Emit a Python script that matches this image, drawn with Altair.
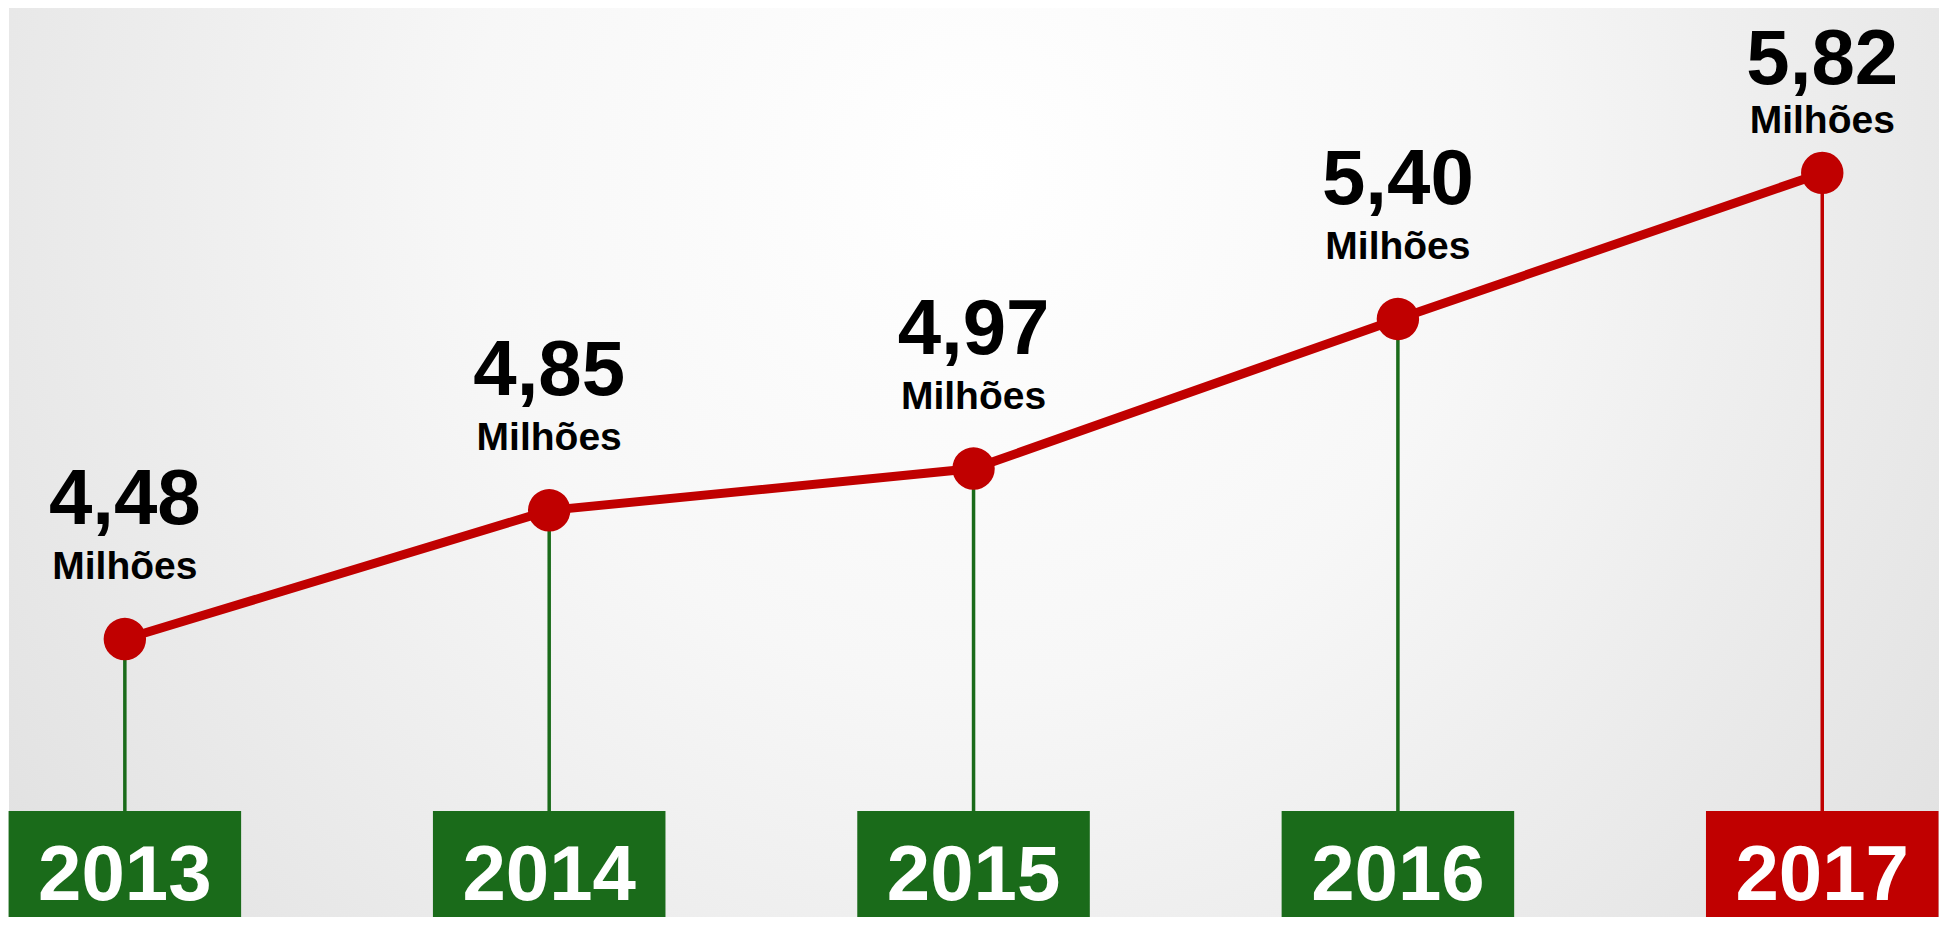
import altair as alt
import pandas as pd

years = [2013, 2014, 2015, 2016, 2017]
values = [4.48, 4.85, 4.97, 5.40, 5.82]
unit_label = "Milhões"

RED = "#c00000"
GREEN = "#1a6b1a"
W, H = 1931, 909
FONT = "Liberation Sans"

df = pd.DataFrame({"year": years, "value": values})

xs = alt.X("year:Q", scale=alt.Scale(domain=[2012.727, 2017.228]), axis=None)
ys = alt.Y("value:Q", scale=alt.Scale(domain=[3.681, 6.294]), axis=None)

base = alt.Chart(df).transform_calculate(
    label="replace(format(datum.value, '.2f'), '.', ',')",
    unit=f"'{unit_label}'",
    xlo="datum.year - 0.274",
    xhi="datum.year + 0.274",
)

bg = alt.Chart(pd.DataFrame({"a": [0]})).mark_rect(
    fill=alt.RadialGradient(
        gradient="radial",
        x1=0.5, y1=0.35, r1=0,
        x2=0.5, y2=0.35, r2=0.75,
        stops=[
            alt.GradientStop(color="#ffffff", offset=0),
            alt.GradientStop(color="#f7f7f7", offset=0.35),
            alt.GradientStop(color="#d9d9d9", offset=1),
        ],
    )
).encode(x=alt.value(0), x2=alt.value(W), y=alt.value(0), y2=alt.value(H))

stem_color = alt.condition("datum.year == 2017", alt.value(RED), alt.value(GREEN))

stems = base.mark_rule(strokeWidth=3.5).encode(
    x=xs, y=ys, y2=alt.value(803), color=stem_color
)

boxes = base.mark_rect().encode(
    x=alt.X("xlo:Q", scale=alt.Scale(domain=[2012.727, 2017.228]), axis=None),
    x2="xhi:Q",
    y=alt.value(803),
    y2=alt.value(H),
    color=stem_color,
)

year_text = base.mark_text(
    font=FONT, fontSize=78, fontWeight="bold", color="white", baseline="alphabetic", align="center"
).encode(x=xs, y=alt.value(892), text=alt.Text("year:N"))

line = base.mark_line(color=RED, strokeWidth=9).encode(x=xs, y=ys)

points = base.mark_circle(size=1800, color=RED, opacity=1).encode(x=xs, y=ys)

val_main = base.transform_filter("datum.year < 2017").mark_text(
    font=FONT, fontSize=78, fontWeight="bold", color="black", baseline="alphabetic", dy=-115
).encode(x=xs, y=ys, text="label:N")
unit_main = base.transform_filter("datum.year < 2017").mark_text(
    font=FONT, fontSize=39, fontWeight="bold", color="black", baseline="alphabetic", dy=-60
).encode(x=xs, y=ys, text="unit:N")

val_last = base.transform_filter("datum.year == 2017").mark_text(
    font=FONT, fontSize=78, fontWeight="bold", color="black", baseline="alphabetic", dy=-89
).encode(x=xs, y=ys, text="label:N")
unit_last = base.transform_filter("datum.year == 2017").mark_text(
    font=FONT, fontSize=39, fontWeight="bold", color="black", baseline="alphabetic", dy=-40
).encode(x=xs, y=ys, text="unit:N")

chart = alt.layer(
    bg, stems, boxes, year_text, line, points, val_main, unit_main, val_last, unit_last
).properties(
    width=W, height=H, padding=0,
    autosize=alt.AutoSizeParams(type="fit", contains="padding"),
).configure_view(stroke=None)

chart.save("out.html", embed_options={"renderer": "svg", "actions": False})
